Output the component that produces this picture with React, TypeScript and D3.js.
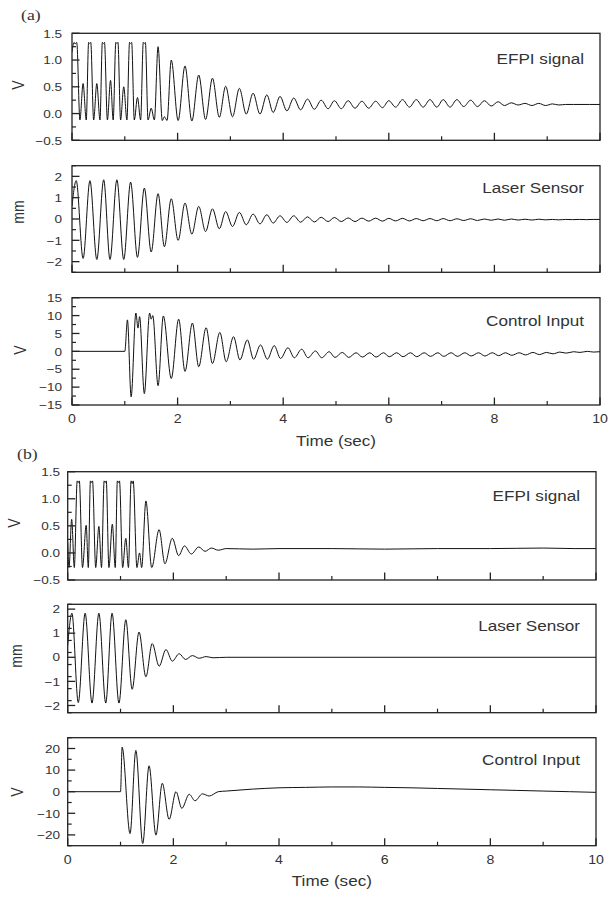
import React from 'react';
import * as d3 from 'd3';

// ---------- DATA (extrema, [time s, value]) ----------
const efpiA: [number, number][] = [
  [0, 1.15], [0.04, 1.33], [0.06, 1.3], [0.09, 1.33], [0.15, -0.12], [0.21, 0.56], [0.27, -0.12],
  [0.315, 1.33], [0.335, 1.31], [0.355, 1.33], [0.41, -0.12], [0.47, 0.56], [0.53, -0.12],
  [0.575, 1.33], [0.595, 1.31], [0.615, 1.33], [0.67, -0.12], [0.73, 0.62], [0.78, -0.12],
  [0.83, 1.33], [0.85, 1.31], [0.87, 1.33], [0.92, -0.12], [0.98, 0.5], [1.04, -0.12],
  [1.09, 1.33], [1.11, 1.31], [1.13, 1.33], [1.18, -0.12], [1.24, 0.3], [1.3, -0.12],
  [1.35, 1.33], [1.37, 1.31], [1.39, 1.33], [1.44, -0.12], [1.5, 0.1], [1.56, -0.12],
  [1.63, 1.25], [1.71, -0.13], [1.75, -0.06], [1.8, -0.13], [1.88, 1.0], [2.01, -0.13],
  [2.14, 0.89], [2.27, -0.14], [2.4, 0.72], [2.53, -0.11], [2.66, 0.66], [2.79, -0.07],
  [2.91, 0.51], [3.04, -0.06], [3.17, 0.47], [3.3, -0.01], [3.43, 0.38], [3.56, -0.01],
  [3.69, 0.35], [3.81, 0.02], [3.94, 0.32], [4.07, 0.05], [4.2, 0.29], [4.33, 0.07],
  [4.46, 0.27], [4.59, 0.08], [4.72, 0.25], [4.85, 0.09], [4.97, 0.24], [5.1, 0.09],
  [5.23, 0.24], [5.36, 0.1], [5.49, 0.23], [5.62, 0.1], [5.75, 0.23], [5.88, 0.11],
  [6.0, 0.24], [6.13, 0.12], [6.26, 0.26], [6.39, 0.12], [6.52, 0.26], [6.65, 0.12],
  [6.78, 0.26], [6.91, 0.12], [7.03, 0.26], [7.16, 0.12], [7.29, 0.26], [7.42, 0.13],
  [7.55, 0.25], [7.68, 0.13], [7.81, 0.24], [7.94, 0.14], [8.07, 0.22], [8.19, 0.15],
  [8.32, 0.2], [8.45, 0.16], [8.58, 0.19], [8.71, 0.15], [8.84, 0.19], [8.97, 0.15],
  [9.1, 0.18], [9.22, 0.16], [9.35, 0.17], [9.5, 0.17], [9.8, 0.17], [10, 0.17],
];

const laserA: [number, number][] = [
  [0, 0.6], [0.08, 1.8], [0.21, -1.85], [0.34, 1.8], [0.47, -1.9], [0.6, 1.84], [0.72, -1.9],
  [0.85, 1.84], [0.98, -1.9], [1.11, 1.73], [1.24, -1.8], [1.37, 1.45], [1.5, -1.55],
  [1.63, 1.19], [1.75, -1.3], [1.88, 0.95], [2.01, -1.0], [2.14, 0.75], [2.27, -0.71],
  [2.4, 0.59], [2.53, -0.59], [2.66, 0.48], [2.79, -0.46], [2.91, 0.35], [3.04, -0.35],
  [3.17, 0.31], [3.3, -0.27], [3.43, 0.23], [3.56, -0.23], [3.69, 0.2], [3.81, -0.19],
  [3.94, 0.15], [4.07, -0.16], [4.2, 0.15], [4.33, -0.15], [4.46, 0.1], [4.59, -0.14],
  [4.72, 0.08], [4.85, -0.12], [4.97, 0.07], [5.1, -0.12], [5.23, 0.05], [5.36, -0.12],
  [5.49, 0.04], [5.62, -0.1], [5.75, 0.04], [5.88, -0.1], [6.0, 0.03], [6.13, -0.09],
  [6.26, 0.03], [6.39, -0.09], [6.52, 0.02], [6.65, -0.08], [6.78, 0.02], [6.91, -0.08],
  [7.03, 0.02], [7.16, -0.08], [7.29, 0.01], [7.42, -0.07], [7.55, 0.01], [7.68, -0.07],
  [7.81, 0.0], [7.94, -0.06], [8.07, 0.0], [8.19, -0.06], [8.32, 0.0], [8.45, -0.05],
  [8.58, -0.01], [8.71, -0.05], [8.84, -0.01], [8.97, -0.04], [9.1, -0.02], [9.22, -0.04],
  [9.35, -0.02], [9.48, -0.03], [9.61, -0.02], [9.74, -0.03], [9.87, -0.02], [10, -0.02],
];

const controlA: [number, number][] = [
  [0, 0], [1.0, 0], [1.05, 8.8], [1.12, -12.7], [1.21, 10.7], [1.25, 6.5], [1.28, 9.7],
  [1.37, -11.8], [1.47, 10.7], [1.5, 9.0], [1.53, 10.0], [1.63, -9.6], [1.73, 9.9],
  [1.88, -7.6], [2.02, 9.0], [2.14, -5.6], [2.28, 7.9], [2.4, -4.3], [2.54, 6.6],
  [2.66, -3.4], [2.8, 5.3], [2.92, -2.9], [3.06, 4.1], [3.18, -2.4], [3.32, 3.2],
  [3.44, -2.2], [3.57, 1.8], [3.7, -2.2], [3.83, 1.6], [3.95, -2.0], [4.09, 1.0],
  [4.21, -1.8], [4.35, 0.6], [4.47, -1.8], [4.61, 0.1], [4.73, -1.8], [4.87, -0.1],
  [4.98, -1.7], [5.12, -0.3], [5.24, -1.7], [5.38, -0.4], [5.5, -1.6], [5.64, -0.4],
  [5.76, -1.6], [5.9, -0.4], [6.01, -1.5], [6.15, -0.4], [6.27, -1.5], [6.41, -0.4],
  [6.53, -1.5], [6.67, -0.4], [6.79, -1.4], [6.93, -0.4], [7.04, -1.4], [7.18, -0.4],
  [7.3, -1.4], [7.44, -0.4], [7.56, -1.3], [7.7, -0.4], [7.82, -1.3], [7.96, -0.4],
  [8.08, -1.2], [8.21, -0.4], [8.33, -1.1], [8.47, -0.4], [8.59, -1.0], [8.73, -0.3],
  [8.85, -0.9], [8.99, -0.3], [9.11, -0.7], [9.24, -0.2], [9.36, -0.5], [9.5, -0.1],
  [9.62, -0.3], [9.76, 0], [9.88, -0.2], [10, -0.1],
];

const efpiB: [number, number][] = [
  [0, 0.2], [0.025, -0.27], [0.075, 0.62], [0.125, -0.27], [0.18, 1.33], [0.2, 1.3], [0.22, 1.33],
  [0.28, -0.27], [0.35, 0.51], [0.39, -0.27], [0.43, 1.33], [0.45, 1.3], [0.47, 1.33],
  [0.53, -0.27], [0.59, 0.49], [0.64, -0.27], [0.69, 1.33], [0.71, 1.3], [0.73, 1.33],
  [0.78, -0.27], [0.845, 0.53], [0.9, -0.27], [0.94, 1.33], [0.96, 1.3], [0.98, 1.33],
  [1.04, -0.27], [1.1, 0.27], [1.15, -0.27], [1.2, 1.33], [1.22, 1.28], [1.24, 1.33],
  [1.31, -0.27], [1.36, 0.0], [1.4, -0.27], [1.48, 0.96], [1.59, -0.27], [1.73, 0.43],
  [1.84, -0.2], [1.98, 0.27], [2.1, -0.05], [2.21, 0.13], [2.34, -0.02], [2.48, 0.11],
  [2.6, 0.03], [2.72, 0.09], [2.85, 0.05], [3.0, 0.08], [3.5, 0.07], [4, 0.08], [5, 0.08],
  [6, 0.07], [7, 0.08], [8, 0.08], [9, 0.09], [9.6, 0.08], [10, 0.08],
];

const laserB: [number, number][] = [
  [0, 0.5], [0.08, 1.83], [0.2, -1.88], [0.33, 1.83], [0.46, -1.9], [0.59, 1.83], [0.72, -1.9],
  [0.84, 1.83], [0.97, -1.9], [1.1, 1.56], [1.22, -1.33], [1.35, 1.05], [1.48, -0.81],
  [1.6, 0.57], [1.73, -0.37], [1.86, 0.32], [1.98, -0.16], [2.11, 0.15], [2.23, -0.09],
  [2.36, 0.07], [2.49, -0.04], [2.62, 0.03], [2.75, -0.02], [3.0, 0.0], [10, 0.0],
];

const controlB: [number, number][] = [
  [0, 0], [1.0, 0], [1.03, 20.6], [1.18, -19.4], [1.29, 19.1], [1.42, -24], [1.54, 12],
  [1.67, -20.1], [1.79, 3.9], [1.92, -12.8], [2.05, 0], [2.16, -7.7], [2.3, -1.2],
  [2.41, -4.2], [2.55, -1.0], [2.68, -2.0], [2.85, 0.0], [3.0, 0.3], [3.5, 1.2], [4, 1.8],
  [4.5, 2.0], [5, 2.2], [5.5, 2.2], [6, 2.0], [6.5, 1.8], [7, 1.5], [7.5, 1.2], [8, 0.9],
  [8.5, 0.6], [9, 0.3], [9.5, 0.0], [10, -0.3],
];

const timeTicks = [0, 2, 4, 6, 8, 10];
const efpiTicks = [-0.5, 0, 0.5, 1.0, 1.5];
const laserTicks = [-2, -1, 0, 1, 2];
const controlTicksA = [-15, -10, -5, 0, 5, 10, 15];
const controlTicksB = [-20, -10, 0, 10, 20];

// ---------- LAYOUT ----------
const SX = 1.18;
const FONT = "'Liberation Sans', Arial, Helvetica, sans-serif";
const LINE = '#111';
const FRAME = '#222';
const TEXT = '#333';

type Panel = {
  x0: number; x1: number; top: number; bot: number; dom: [number, number];
  ticks: number[]; minorStep: number; fmt: (v: number) => string; data: [number, number][];
  title: string; titleY: number; ylabel: string; ylx: number; yly: number; labRight: number;
};

const f1 = d3.format('.1f');
const f0 = (v: number) => d3.format('d')(v);

const panels: Panel[] = [
  { x0: 72, x1: 600, top: 33.3, bot: 140.3, dom: [-0.5, 1.5], ticks: efpiTicks, minorStep: 0.25, fmt: f1, data: efpiA, title: 'EFPI signal', titleY: 63.5, ylabel: 'V', ylx: 19, yly: 85, labRight: 62 },
  { x0: 72, x1: 600, top: 165.7, bot: 272.3, dom: [-2.5, 2.5], ticks: laserTicks, minorStep: 0.5, fmt: f0, data: laserA, title: 'Laser Sensor', titleY: 193, ylabel: 'mm', ylx: 19, yly: 212, labRight: 62 },
  { x0: 72, x1: 600, top: 297.7, bot: 405, dom: [-15, 15], ticks: controlTicksA, minorStep: 2.5, fmt: f0, data: controlA, title: 'Control Input', titleY: 326, ylabel: 'V', ylx: 21, yly: 350, labRight: 62 },
  { x0: 67.7, x1: 596, top: 471.7, bot: 580, dom: [-0.5, 1.5], ticks: efpiTicks, minorStep: 0.25, fmt: f1, data: efpiB, title: 'EFPI signal', titleY: 501, ylabel: 'V', ylx: 15, yly: 523, labRight: 60 },
  { x0: 67.7, x1: 596, top: 604.3, bot: 712.7, dom: [-2.3, 2.2], ticks: laserTicks, minorStep: 0.5, fmt: f0, data: laserB, title: 'Laser Sensor', titleY: 631, ylabel: 'mm', ylx: 17, yly: 656, labRight: 60 },
  { x0: 67.7, x1: 596, top: 737.7, bot: 845.7, dom: [-25, 25], ticks: controlTicksB, minorStep: 5, fmt: f0, data: controlB, title: 'Control Input', titleY: 765, ylabel: 'V', ylx: 18, yly: 792, labRight: 60 },
];

function SText(props: { x: number; y: number; size: number; anchor?: string; rotate?: boolean; serif?: boolean; children: React.ReactNode }) {
  const { x, y, size, anchor = 'start', rotate, serif, children } = props;
  return (
    <text
      transform={`translate(${x},${y}) scale(${SX},1)${rotate ? ' rotate(-90)' : ''}`}
      textAnchor={anchor as any}
      fontSize={size}
      fontFamily={serif ? "'Liberation Serif', 'Times New Roman', serif" : FONT}
      fill={TEXT}
    >
      {children}
    </text>
  );
}

function PanelView({ p, showX }: { p: Panel; showX: { labelY: number; titleY: number } | null }) {
  const x = d3.scaleLinear().domain([0, 10]).range([p.x0, p.x1]);
  const y = d3.scaleLinear().domain(p.dom).range([p.bot, p.top]);
  const line = d3.line<[number, number]>().x(d => x(d[0])).y(d => y(d[1])).curve(d3.curveMonotoneX);
  const minor = d3.range(p.dom[0], p.dom[1] + 1e-9, p.minorStep).filter(v => !p.ticks.some(t => Math.abs(t - v) < 1e-9));
  const xMinor = d3.range(1, 10, 2);
  const clipId = `clip-${Math.round(p.top)}`;
  return (
    <g>
      <defs>
        <clipPath id={clipId}>
          <rect x={p.x0} y={p.top} width={p.x1 - p.x0} height={p.bot - p.top} />
        </clipPath>
      </defs>
      <path d={line(p.data) || ''} fill="none" stroke={LINE} strokeWidth={1} clipPath={`url(#${clipId})`} />
      <rect x={p.x0} y={p.top} width={p.x1 - p.x0} height={p.bot - p.top} fill="none" stroke={FRAME} strokeWidth={1.3} />
      {p.ticks.map(t => (
        <g key={`yt${t}`}>
          <line x1={p.x0} x2={p.x0 + 7.5} y1={y(t)} y2={y(t)} stroke={FRAME} strokeWidth={1.3} />
          <SText x={p.labRight} y={y(t) + 4.2} size={11.5} anchor="end">{p.fmt(t)}</SText>
        </g>
      ))}
      {minor.map(t => (
        <line key={`ym${t}`} x1={p.x0} x2={p.x0 + 4} y1={y(t)} y2={y(t)} stroke={FRAME} strokeWidth={1.2} />
      ))}
      {timeTicks.map(t => (
        <line key={`xt${t}`} x1={x(t)} x2={x(t)} y1={p.bot} y2={p.bot - 7.5} stroke={FRAME} strokeWidth={1.3} />
      ))}
      {xMinor.map(t => (
        <line key={`xm${t}`} x1={x(t)} x2={x(t)} y1={p.bot} y2={p.bot - 4} stroke={FRAME} strokeWidth={1.2} />
      ))}
      <SText x={p.x1 - 16} y={p.titleY} size={14.5} anchor="end">{p.title}</SText>
      <SText x={p.ylx + 5} y={p.yly} size={14} anchor="middle" rotate>{p.ylabel}</SText>
      {showX && (
        <g>
          {timeTicks.map(t => (
            <SText key={`xl${t}`} x={x(t)} y={showX.labelY} size={12} anchor="middle">{f0(t)}</SText>
          ))}
          <SText x={(p.x0 + p.x1) / 2} y={showX.titleY} size={14.5} anchor="middle">Time (sec)</SText>
        </g>
      )}
    </g>
  );
}

export default function App() {
  return (
    <svg width={610} height={902} style={{ position: 'absolute', left: 0, top: 0, background: '#fff' }}>
      <rect width={610} height={902} fill="#fff" />
      <SText x={21} y={19.5} size={15} serif>(a)</SText>
      <SText x={17} y={459} size={15} serif>(b)</SText>
      {panels.map((p, i) => (
        <PanelView
          key={i}
          p={p}
          showX={i === 2 ? { labelY: 422.5, titleY: 446 } : i === 5 ? { labelY: 863.5, titleY: 886 } : null}
        />
      ))}
    </svg>
  );
}
